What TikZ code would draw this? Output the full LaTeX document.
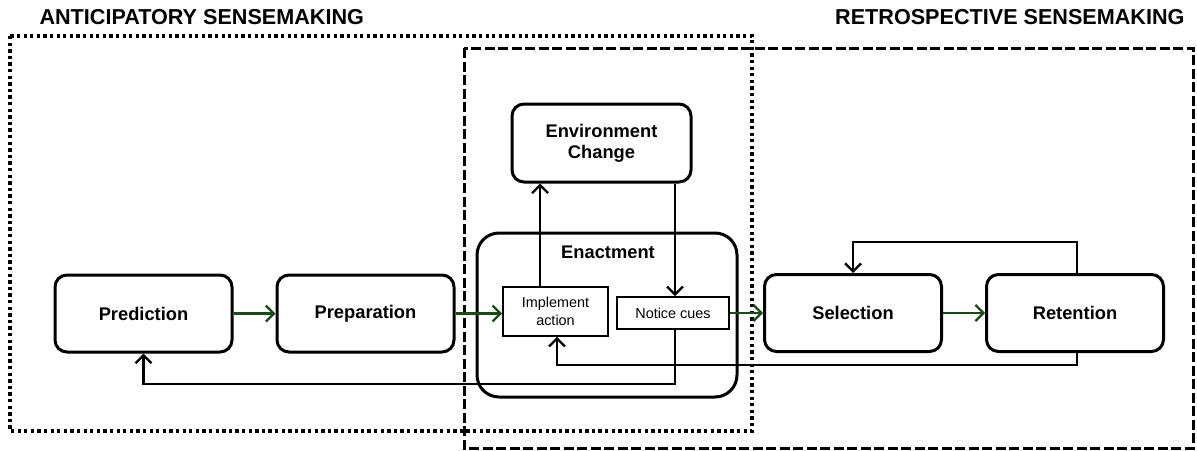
\documentclass[tikz,border=0pt]{standalone}
\usepackage{fontspec}
\setmainfont{Liberation Sans}
\usetikzlibrary{arrows.meta,calc}
\definecolor{flowgreen}{RGB}{25,75,20}
\tikzset{
  stage/.style={draw, line width=3pt, rounded corners=12pt, fill=white,
    minimum width=177pt, minimum height=77pt, font=\fontsize{18.3}{21}\selectfont\bfseries, align=center},
  inner/.style={draw, line width=1.6pt, fill=white, font=\fontsize{14.4}{17.5}\selectfont, align=center},
  arr/.style={line width=2.3pt, -{Straight Barb[length=8pt,width=16pt,line width=2.3pt]}},
  garr/.style={arr, draw=flowgreen},
  title/.style={font=\fontsize{21.6}{25}\selectfont\bfseries},
}
\begin{document}
\begin{tikzpicture}[x=1pt,y=-1pt]
  \useasboundingbox (0,0) rectangle (1197,450);
  % the two sensemaking regions
  \draw[line width=3.3pt, dash pattern=on 3.3pt off 3.3pt] (10,36) rectangle (752,431);
  \draw[line width=3pt, dash pattern=on 10pt off 3.5pt] (464,48) rectangle (1193,448);
  \node[title, anchor=west] (antic) at (36,17) {ANTICIPATORY SENSEMAKING};
  \node[title, anchor=east] (retro) at (1188,17) {RETROSPECTIVE SENSEMAKING};
  % stages
  \node[stage] (pred) at (143.5,313.5) {Prediction};
  \node[stage] (prep) at (365.5,313.5) {Preparation};
  \node[stage] (sel) at (853,313) {Selection};
  \node[stage] (ret) at (1075,313) {Retention};
  \node[stage, minimum width=179pt, minimum height=78pt] (env) at (601.5,143) {Environment\\Change};
  \node[stage, minimum width=260pt, minimum height=164pt, rounded corners=22pt] (enact) at (607,315) {};
  \node[font=\fontsize{18.3}{21}\selectfont\bfseries] (enlabel) at (608,252) {Enactment};
  \node[inner, minimum width=105pt, minimum height=49pt, inner sep=1pt] (impl) at (555.5,311.5) {Implement\\action};
  \node[inner, minimum width=112pt, minimum height=32pt] (notice) at (673,313) {Notice cues};
  % main flow
  \draw[garr] (pred.east) -- (prep.west);
  \draw[garr] (prep.east) -- (prep.east -| impl.west);
  \draw[garr] (notice.east) -- (notice.east -| sel.west);
  \draw[garr] (sel.east) -- (ret.west);
  % enactment cycle
  \draw[arr] ([xshift=-15.5pt]impl.north) -- ([xshift=-15.5pt]impl.north |- env.south);
  \draw[arr] ([xshift=73.5pt]env.south) -- ([xshift=73.5pt]env.south |- notice.north);
  % feedback loops
  \draw[arr] ([xshift=2pt]notice.south) -- ++(0,54) -| (pred.south);
  \draw[arr] ([xshift=2pt]ret.south) -- ++(0,12) -| ([xshift=1.5pt]impl.south);
  \draw[arr] ([xshift=2pt]ret.north) -- ++(0,-31) -| (sel.north);
\end{tikzpicture}
\end{document}
